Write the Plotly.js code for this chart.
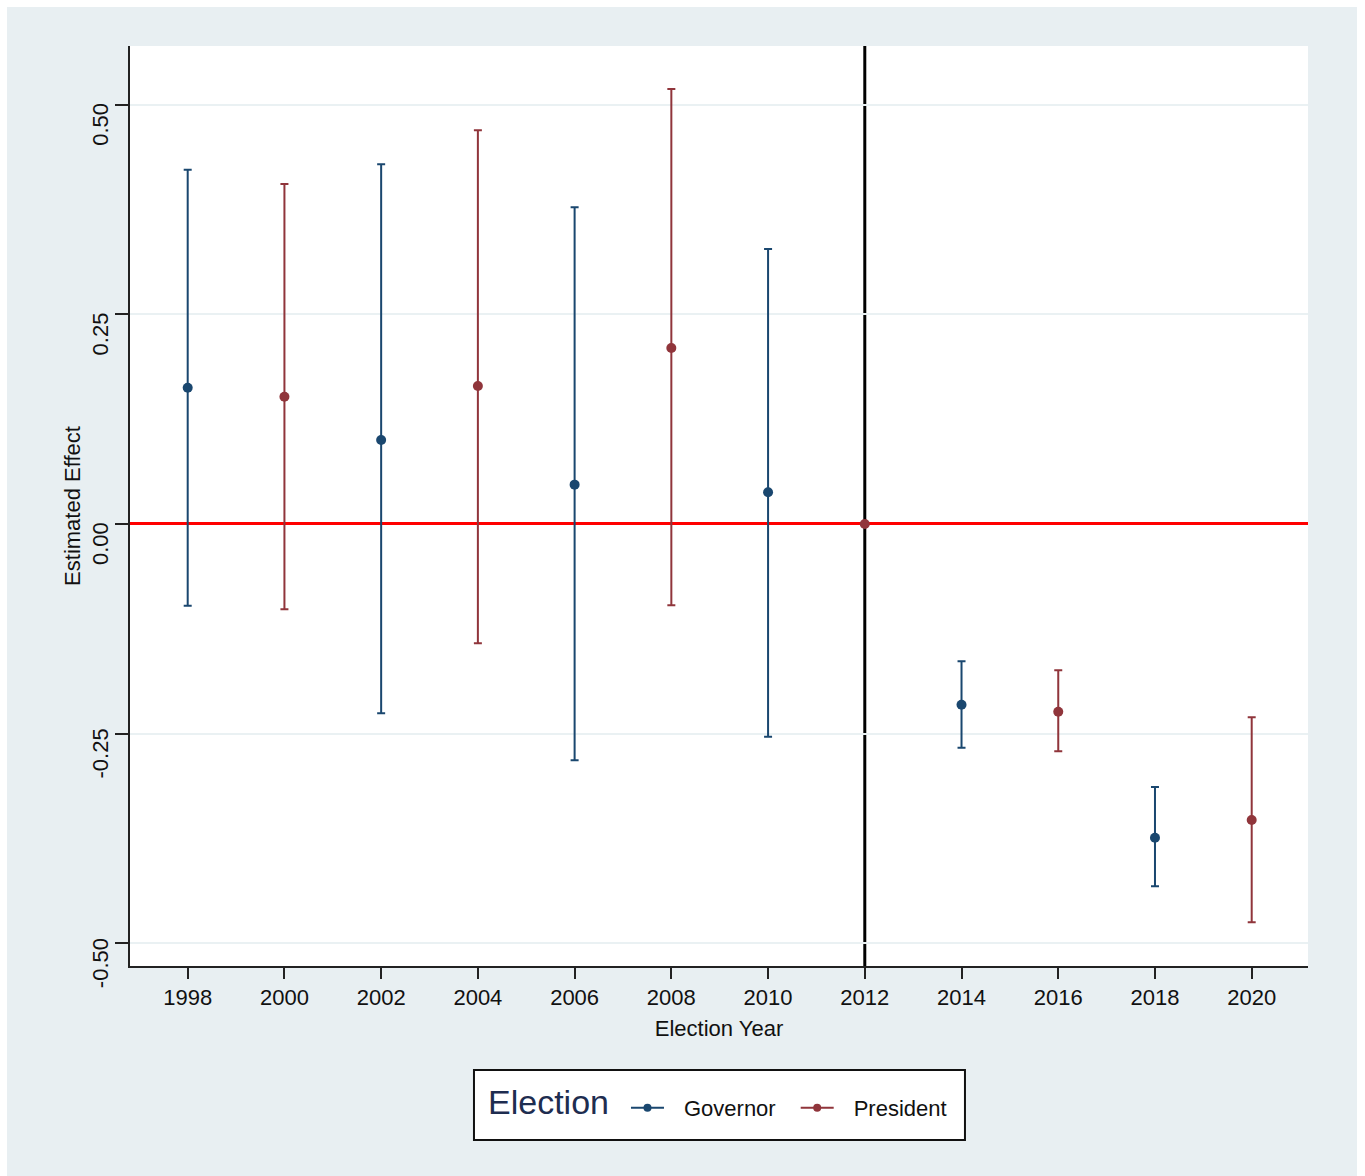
<!DOCTYPE html>
<html>
<head>
<meta charset="utf-8">
<script src="https://cdn.plot.ly/plotly-3.0.1.min.js"></script>
<style>
  html, body { margin: 0; padding: 0; background: #ffffff; width: 1365px; height: 1176px; overflow: hidden; }
  #chart { position: absolute; left: 7px; top: 7px; width: 1350px; height: 1169px; }
</style>
</head>
<body>
<div id="chart"></div>
<script>
// ---- Data ----
const govYears = [1998, 2002, 2006, 2010, 2014, 2018];
const govEst   = [0.1625, 0.1002, 0.0469, 0.0378, -0.2155, -0.3740];
const govLo    = [-0.0974, -0.2257, -0.2817, -0.2536, -0.2667, -0.4320];
const govHi    = [0.4224, 0.4289, 0.3776, 0.3280, -0.1637, -0.3136];

const presYears = [2000, 2004, 2008, 2012, 2016, 2020];
const presEst   = [0.1518, 0.1645, 0.2098, 0.0, -0.2238, -0.3529];
const presLo    = [-0.1017, -0.1422, -0.0969, null, -0.2710, -0.4749];
const presHi    = [0.4054, 0.4694, 0.5187, null, -0.1744, -0.2305];

const xTicks = [1998, 2000, 2002, 2004, 2006, 2008, 2010, 2012, 2014, 2016, 2018, 2020];
const xTickLabels = ['1998','2000','2002','2004','2006','2008','2010','2012','2014','2016','2018','2020'];
const yTicks = [-0.5, -0.25, 0, 0.25, 0.5];
const yTickLabels = ['-0.50', '-0.25', '0.00', '0.25', '0.50'];
const refYear = 2012;

const seriesNames = ['Governor', 'President'];
const legendTitle = 'Election';
const xTitle = 'Election Year';
const yTitle = 'Estimated Effect';

// ---- Style ----
const govColor = '#1a476f';
const presColor = '#90353b';
const FONT = 'Liberation Sans, Arial, Helvetica, sans-serif';

function plus(est, hi) { return est.map((e, i) => hi[i] == null ? null : hi[i] - e); }
function minus(est, lo) { return est.map((e, i) => lo[i] == null ? null : e - lo[i]); }

function pointTrace(x, y, lo, hi, color) {
  return {
    type: 'scatter', mode: 'markers', x: x, y: y, showlegend: false,
    marker: { color: color, size: 10 },
    error_y: {
      type: 'data', symmetric: false,
      array: plus(y, hi), arrayminus: minus(y, lo),
      color: color, thickness: 2, width: 4
    },
    hoverinfo: 'x+y'
  };
}
function legendTrace(name, color) {
  return {
    type: 'scatter', mode: 'lines+markers', x: [null], y: [null], name: name,
    line: { color: color, width: 2, dash: '0px,15px,33px,200px' },
    marker: { color: color, size: 8 },
    showlegend: true
  };
}

const data = [
  pointTrace(govYears, govEst, govLo, govHi, govColor),
  pointTrace(presYears, presEst, presLo, presHi, presColor),
  legendTrace(seriesNames[0], govColor),
  legendTrace(seriesNames[1], presColor)
];

const layout = {
  width: 1350, height: 1169,
  margin: { l: 123, r: 49, t: 39, b: 210 },
  paper_bgcolor: '#e8eff2',
  plot_bgcolor: '#ffffff',
  font: { family: FONT, color: '#111111', size: 22 },
  showlegend: true,
  xaxis: {
    range: [1996.807, 2021.164],
    tickmode: 'array', tickvals: xTicks, ticktext: xTickLabels,
    ticks: 'outside', ticklen: 11, tickwidth: 2, tickcolor: '#222222',
    showline: true, linecolor: '#222222', linewidth: 2,
    showgrid: false, zeroline: false,
    tickfont: { size: 22, color: '#111111' },
    title: { text: xTitle, font: { size: 22, color: '#111111' }, standoff: 11 }
  },
  yaxis: {
    range: [-0.527, 0.5699],
    tickmode: 'array', tickvals: yTicks, ticktext: yTickLabels,
    tickangle: -90,
    ticklabelshift: 23,
    ticklabelstandoff: -2,
    ticks: 'outside', ticklen: 13, tickwidth: 2, tickcolor: '#222222',
    showline: true, linecolor: '#222222', linewidth: 2,
    showgrid: true, gridcolor: '#eaf1f3', gridwidth: 2,
    zeroline: true, zerolinecolor: '#ff0000', zerolinewidth: 3,
    tickfont: { size: 22, color: '#111111' },
    title: { text: yTitle, font: { size: 22, color: '#111111' }, standoff: 2 }
  },
  shapes: [
    {
      type: 'line', xref: 'x', yref: 'paper', x0: refYear, x1: refYear, y0: 0, y1: 1,
      line: { color: '#000000', width: 3 }, layer: 'below'
    },
    {
      // legend frame
      type: 'rect', xref: 'paper', yref: 'paper',
      x0: 0.2920, x1: 0.7088, y0: -0.1891, y1: -0.1130,
      fillcolor: '#ffffff', line: { color: '#111111', width: 2 }, layer: 'above'
    }
  ],
  annotations: [{
    text: legendTitle, xref: 'paper', yref: 'paper', x: 0.3023, y: -0.1478,
    xanchor: 'left', yanchor: 'middle', showarrow: false,
    font: { size: 34, color: '#1e2d50' }
  }],
  legend: {
    orientation: 'h', x: 0.4083, xanchor: 'left', y: -0.1543, yanchor: 'middle',
    bgcolor: 'rgba(0,0,0,0)', borderwidth: 0,
    font: { size: 22, color: '#111111' },
    itemwidth: 63
  }
};

Plotly.newPlot('chart', data, layout, { displayModeBar: false, staticPlot: true });
</script>
</body>
</html>
